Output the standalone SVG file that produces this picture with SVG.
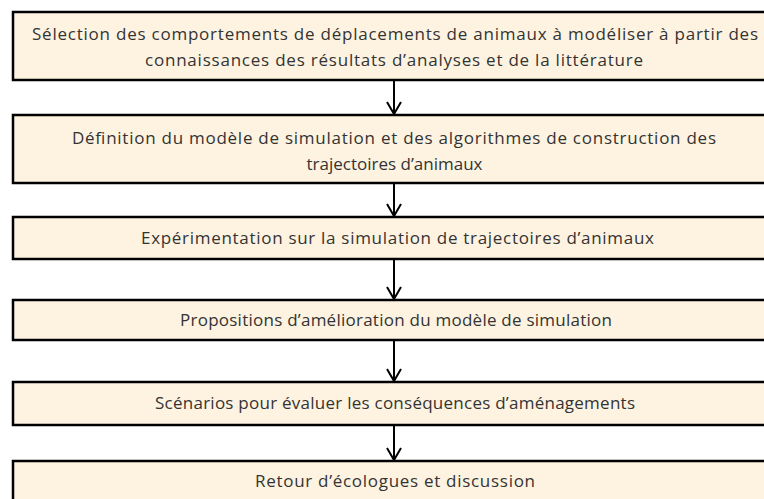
<svg xmlns="http://www.w3.org/2000/svg" width="764" height="499" viewBox="0 0 764 499">
<style>
.box{fill:#FEF3E1;stroke:#000;stroke-width:2.5}
.t{font-family:"Open Sans","Liberation Sans",sans-serif;font-size:17px;fill:#333;text-anchor:middle}
.c{stroke:#000;stroke-width:2;fill:none}
</style>
<rect width="764" height="499" fill="#fff"/>
<g id="n1"><rect class="box" x="13" y="12" width="770" height="68"/>
<text class="t" x="395" y="40" textLength="726">Sélection des comportements de déplacements de animaux à modéliser à partir des</text>
<text class="t" x="394" y="66" textLength="498">connaissances des résultats d’analyses et de la littérature</text></g>
<g id="n2"><rect class="box" x="13" y="115" width="770" height="68"/>
<text class="t" x="394" y="144" textLength="644">Définition du modèle de simulation et des algorithmes de construction des</text>
<text class="t" x="394.5" y="170">trajectoires d’animaux</text></g>
<g id="n3"><rect class="box" x="13" y="217" width="770" height="42"/>
<text class="t" x="397.5" y="244" textLength="513">Expérimentation sur la simulation de trajectoires d’animaux</text></g>
<g id="n4"><rect class="box" x="13" y="300" width="770" height="40"/>
<text class="t" x="396" y="326" textLength="432">Propositions d’amélioration du modèle de simulation</text></g>
<g id="n5"><rect class="box" x="13" y="382" width="770" height="43"/>
<text class="t" x="395" y="409" textLength="480">Scénarios pour évaluer les conséquences d’aménagements</text></g>
<g id="n6"><rect class="box" x="13" y="461" width="770" height="60"/>
<text class="t" x="395" y="487" textLength="280">Retour d’écologues et discussion</text></g>
<g id="connectors">
<path class="c" d="M394 81V114M387 102L394 114L401 102"/>
<path class="c" d="M394 184V216M387 204L394 216L401 204"/>
<path class="c" d="M394 260V299M387 287L394 299L401 287"/>
<path class="c" d="M394 341V381M387 369L394 381L401 369"/>
<path class="c" d="M394 426V460M387 448L394 460L401 448"/>
</g>
</svg>
